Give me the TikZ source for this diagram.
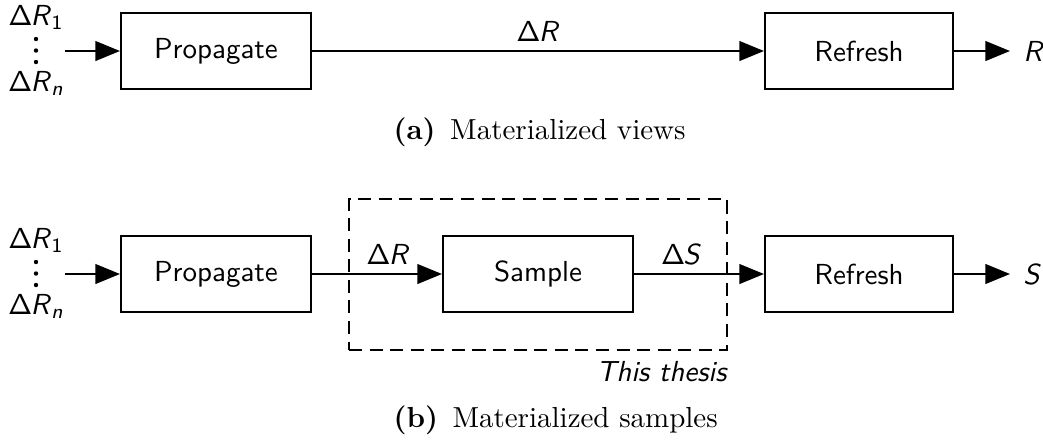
\documentclass[tikz,border=0pt]{standalone}
\usetikzlibrary{arrows.meta}
\newcommand\dR{$\mathsf{\Delta}$\kern-0.6pt\textit{R}}
\newcommand\dS{$\mathsf{\Delta}$\kern-0.6pt\textit{S}}
\begin{document}
\begin{tikzpicture}[x=0.345pt,y=-0.345pt,font=\sffamily,
  box/.style={draw,line width=0.7pt,minimum width=190*0.345pt,minimum height=76*0.345pt,inner sep=0pt},
  conn/.style={line width=0.7pt,-{Triangle[length=8.5pt,width=6.8pt]}},
  lbl/.style={anchor=base,inner sep=0pt},
  outlbl/.style={anchor=west,inner xsep=4.4pt,inner ysep=0pt},
  dot/.style={fill=black},
  thesis/.style={draw,line width=0.7pt,dash pattern=on 4.5pt off 2.6pt,inner sep=0pt}]
\useasboundingbox (0,0) rectangle (1043,441);
% ---------- (a) ----------
\node[lbl] (a1) at (36,25) {\dR\textsubscript{1}};
\fill[dot] (36,39) circle (2.2) (36,50.5) circle (2.2) (36,62) circle (2.2);
\node[lbl] (an) at (36,91) {\dR\textsubscript{\textit{n}}};
\coordinate (ain) at (65,51);
\node[box] (aprop) at (216,51) {Propagate};
\node[box,minimum width=188*0.345pt] (aref) at (859,51) {Refresh};
\node[outlbl] (aR) at (1010,51) {\textit{R}};
\draw[conn] (ain) -- (aprop.west);
\draw[conn] (aprop.east) -- node[lbl,pos=0.5,yshift=10*0.345pt] (adR) {\dR} (aref.west);
\draw[conn] (aref.east) -- (aR.west);
\node[anchor=base west,inner sep=0pt,font=\rmfamily] (capa) at (393,139) {\textbf{(a)}\enspace Materialized views};
% ---------- (b) ----------
\node[lbl] (b1) at (36,248) {\dR\textsubscript{1}};
\fill[dot] (36,262) circle (2.2) (36,273.5) circle (2.2) (36,285) circle (2.2);
\node[lbl] (bn) at (36,314) {\dR\textsubscript{\textit{n}}};
\coordinate (bin) at (65,274);
\node[box] (bprop) at (216,274) {Propagate};
\node[box] (samp) at (538,274) {Sample};
\node[box,minimum width=188*0.345pt] (bref) at (859,274) {Refresh};
\node[outlbl] (bS) at (1010,274) {\textit{S}};
\node[thesis,minimum width=378*0.345pt,minimum height=151*0.345pt] (tbox) at (538,274.5) {};
\node[anchor=base east,inner sep=0pt,font=\sffamily\itshape] (tlbl) at (727,381) {This thesis};
\draw[conn] (bin) -- (bprop.west);
\draw[conn] (bprop.east) -- (samp.west);
\draw[conn] (samp.east) -- (bref.west);
\draw[conn] (bref.east) -- (bS.west);
\node[lbl] (bdR) at (388,264) {\dR};
\node[lbl] (bdS) at (681,264) {\dS};
\node[anchor=base west,inner sep=0pt,font=\rmfamily] (capb) at (393,427) {\textbf{(b)}\enspace Materialized samples};
\end{tikzpicture}
\end{document}
